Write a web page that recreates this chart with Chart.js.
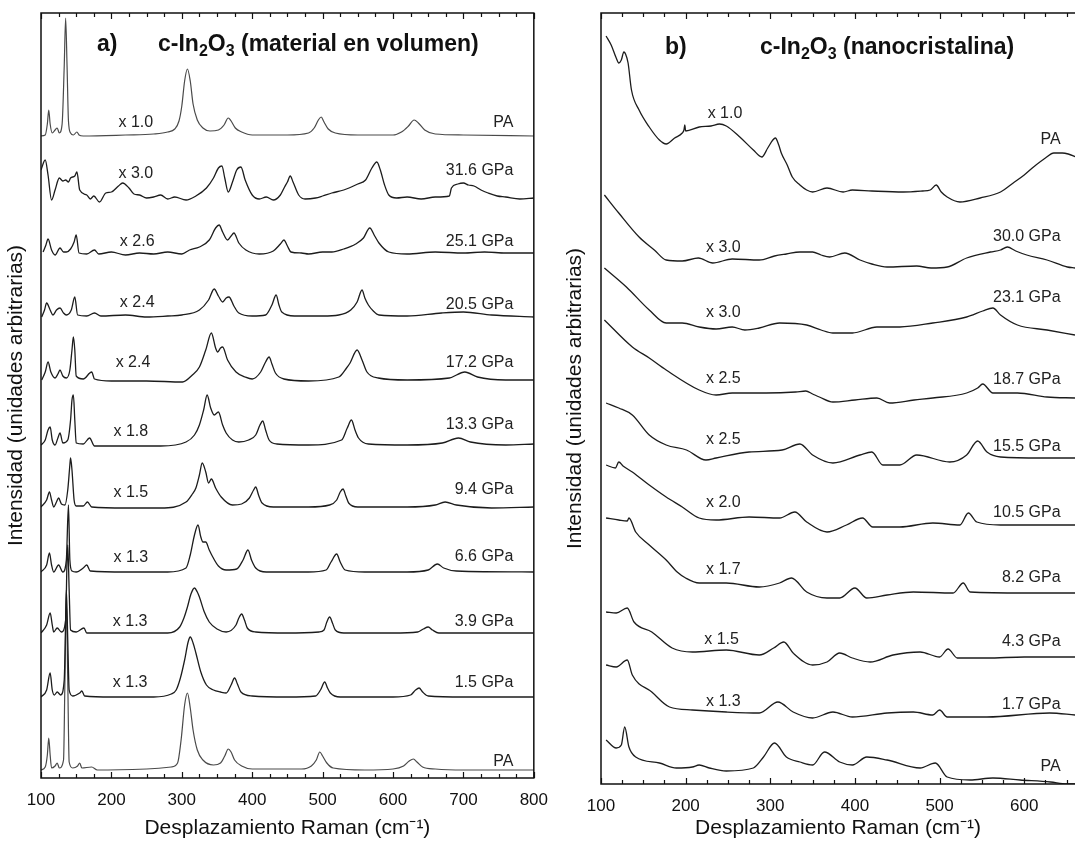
<!DOCTYPE html>
<html>
<head>
<meta charset="utf-8">
<script src="https://cdn.jsdelivr.net/npm/chart.js@4.4.1/dist/chart.umd.min.js"></script>
<style>
  html, body { margin: 0; padding: 0; background: #fff; overflow: hidden; }
  canvas { position: absolute; top: 0; }
  #bulk { left: 0; }
  #nano { left: 560px; }
</style>
</head>
<body>
<canvas id="bulk" width="560" height="841"></canvas>
<canvas id="nano" width="515" height="841"></canvas>
<script>
// ---- panel a) bulk c-In2O3, spectra top to bottom, [shift cm-1, intensity above baseline]
const bulkPA0 = [[100,0],[106,1],[109,12],[111,26],[113,12],[116,3],[120,6],[123,8],[126,3],[130,12],[133,70],[135,118],[137,70],[139,15],[142,3],[146,1],[151,4],[154,1],[160,0],[220,1],[260,2],[280,4],[290,7],[296,15],[300,30],[304,55],[308,67],[312,55],[316,32],[322,16],[330,8],[340,5],[352,6],[360,11],[366,18],[370,15],[376,8],[385,4],[400,1],[450,1],[480,3],[488,8],[494,16],[498,19],[502,14],[508,7],[518,3],[550,1],[600,1],[612,4],[622,10],[630,16],[636,13],[645,6],[660,2],[700,1],[800,0]];
const bulk316 = [[100,27],[106,37],[110,22],[115,-3],[120,7],[126,19],[131,16],[135,17],[139,15],[142,19],[148,21],[151,25],[155,7],[165,2],[170,-2],[175,1],[183,-5],[192,4],[200,5],[210,11],[216,14],[225,9],[232,3],[240,2],[250,-1],[260,0],[270,2],[280,-2],[290,0],[306,-3],[320,1],[335,9],[345,19],[352,29],[357,31],[361,19],[366,5],[372,15],[378,27],[384,30],[390,17],[400,2],[410,-2],[420,0],[430,-3],[440,2],[446,10],[450,15],[454,21],[458,15],[466,2],[475,-2],[490,-1],[500,1],[513,4],[530,7],[550,13],[561,17],[570,29],[577,35],[582,27],[588,12],[594,2],[605,-1],[620,0],[640,-2],[660,0],[680,1],[683,9],[692,13],[700,14],[707,12],[715,11],[725,7],[735,4],[748,1],[760,0],[780,-2],[800,-1]];
const bulk251 = [[103,1],[107,8],[110,14],[115,3],[120,-2],[127,5],[132,1],[136,1],[142,4],[147,11],[150,18],[154,0],[165,-1],[176,3],[182,-1],[200,1],[220,-2],[240,0],[260,-1],[280,1],[300,-1],[311,3],[325,6],[339,13],[348,25],[353,28],[358,21],[365,13],[370,17],[374,20],[381,10],[391,3],[410,-1],[430,2],[440,9],[445,13],[450,7],[455,1],[470,0],[480,-1],[500,1],[513,1],[530,4],[547,9],[558,15],[567,25],[574,17],[580,10],[594,1],[620,-1],[660,1],[700,0],[730,1],[760,0],[800,0]];
const bulk205 = [[101,-1],[105,6],[108,13],[113,6],[117,1],[122,6],[127,8],[132,3],[136,1],[143,6],[148,19],[152,1],[165,0],[176,3],[185,0],[220,1],[250,-1],[280,0],[300,1],[325,6],[338,16],[346,27],[352,20],[358,14],[363,18],[367,19],[374,10],[381,3],[400,0],[419,1],[428,11],[434,21],[438,11],[442,4],[460,0],[500,0],[523,1],[540,6],[549,14],[556,26],[560,18],[565,11],[572,5],[580,1],[620,0],[669,3],[700,4],[740,1],[800,-1]];
const bulk172 = [[101,0],[106,8],[110,18],[114,8],[120,2],[124,6],[127,10],[131,4],[136,2],[141,10],[144,30],[146,43],[148,30],[150,4],[160,1],[172,8],[176,1],[200,-1],[250,-1],[301,-2],[315,5],[325,13],[334,30],[342,47],[348,32],[351,28],[355,32],[358,33],[365,20],[377,8],[390,3],[400,1],[412,8],[419,18],[424,23],[428,16],[433,7],[445,1],[480,-1],[523,3],[534,12],[539,17],[549,30],[556,20],[563,8],[579,2],[620,0],[680,2],[702,8],[720,3],[760,0],[800,0]];
const bulk133 = [[100,0],[106,5],[110,15],[113,18],[116,5],[120,0],[124,7],[127,12],[131,2],[138,5],[142,25],[144,45],[146,50],[148,25],[150,2],[160,1],[169,7],[176,-1],[220,-1],[270,-1],[306,3],[318,10],[325,20],[331,35],[336,50],[341,37],[346,30],[352,33],[358,20],[363,12],[372,5],[381,3],[395,5],[405,10],[411,20],[415,24],[419,15],[424,5],[435,1],[480,0],[527,5],[535,17],[541,25],[546,15],[551,7],[565,1],[620,0],[670,2],[693,7],[710,3],[760,0],[800,1]];
const bulk94 = [[100,0],[108,7],[112,15],[115,7],[118,0],[122,5],[125,9],[129,3],[134,2],[138,17],[141,42],[142,49],[144,37],[147,7],[150,1],[160,1],[166,5],[172,0],[220,-1],[270,-1],[306,5],[315,13],[320,19],[325,32],[329,44],[334,35],[338,24],[342,28],[348,19],[356,10],[372,2],[385,3],[396,9],[402,17],[405,20],[409,12],[414,4],[430,0],[480,0],[510,2],[520,7],[525,15],[529,18],[533,11],[537,4],[550,0],[620,0],[660,2],[674,5],[690,2],[740,-1],[800,0]];
const bulk66 = [[100,0],[108,7],[112,19],[115,7],[118,0],[125,7],[131,0],[136,12],[139,67],[141,12],[144,1],[150,0],[160,4],[165,7],[170,1],[220,0],[280,0],[306,4],[312,17],[318,37],[323,47],[327,35],[330,30],[334,30],[339,22],[344,15],[352,6],[363,2],[378,3],[387,12],[394,22],[399,12],[405,4],[420,0],[480,0],[505,2],[512,10],[520,18],[525,10],[532,2],[560,0],[620,0],[650,2],[663,8],[672,4],[690,1],[800,0]];
const bulk39 = [[100,0],[108,8],[113,20],[116,8],[118,1],[123,5],[129,1],[135,13],[137,73],[138,88],[140,43],[142,3],[150,1],[161,5],[165,0],[220,0],[280,0],[297,6],[303,15],[308,26],[313,39],[318,45],[322,41],[325,36],[332,21],[339,11],[350,4],[363,1],[377,8],[381,15],[385,19],[389,13],[393,5],[405,1],[450,0],[495,1],[502,3],[506,11],[510,16],[514,10],[518,3],[530,0],[600,0],[635,1],[643,4],[650,6],[656,3],[665,0],[800,0]];
const bulk15 = [[100,0],[108,7],[113,24],[116,7],[119,2],[123,5],[128,2],[133,17],[135,77],[136,107],[138,57],[140,7],[145,1],[155,4],[158,6],[162,1],[200,0],[260,0],[285,3],[292,7],[298,19],[304,37],[309,55],[312,60],[316,54],[320,44],[327,25],[335,12],[345,7],[355,5],[363,4],[370,12],[375,19],[379,13],[384,5],[400,1],[450,0],[490,1],[497,7],[503,15],[507,9],[511,4],[525,0],[600,0],[625,2],[632,7],[637,9],[642,5],[650,1],[700,0],[800,0]];
const bulkPA1 = [[100,0],[106,3],[109,15],[111,32],[113,15],[115,2],[120,4],[123,7],[126,2],[132,10],[134,90],[136,170],[138,90],[140,8],[145,2],[152,4],[155,7],[158,2],[172,3],[180,0],[250,1],[285,3],[294,7],[299,30],[304,65],[308,77],[312,62],[316,40],[322,20],[330,10],[345,5],[355,7],[361,14],[366,21],[370,18],[375,10],[385,4],[400,1],[470,1],[484,4],[491,10],[496,18],[500,14],[506,7],[515,2],[560,0],[600,1],[615,4],[623,9],[629,11],[634,8],[642,3],[660,1],[700,0],[800,0]];

const bulkSpectra = [bulkPA0, bulk316, bulk251, bulk205, bulk172, bulk133, bulk94, bulk66, bulk39, bulk15, bulkPA1];
const bulkOffsets = [642, 581, 525, 462, 398, 333, 271, 206, 145, 81, 8];
const bulkFactor = ["x 1.0", "x 3.0", "x 2.6", "x 2.4", "x 2.4", "x 1.8", "x 1.5", "x 1.3", "x 1.3", "x 1.3", ""];
const bulkFactorX = [210, 210, 212, 212, 206, 203, 203, 203, 202, 202, 0];
const bulkFactorY = [655, 604, 536, 475, 415, 346, 285, 220, 156, 95, 0];
const bulkPressure = ["PA", "31.6 GPa", "25.1 GPa", "20.5 GPa", "17.2 GPa", "13.3 GPa", "9.4 GPa", "6.6 GPa", "3.9 GPa", "1.5 GPa", "PA"];
const bulkPressureY = [655, 607, 536, 473, 415, 353, 288, 221, 156, 95, 16];
const bulkTicks = [100, 200, 300, 400, 500, 600, 700, 800];

// ---- panel b) nanocrystalline c-In2O3
const nanoPA0 = [[106,156],[112,147],[118,134],[121,129],[124,132],[127,140],[129,138],[132,129],[136,102],[145,82],[157,65],[169,52],[177,48],[187,54],[196,59],[198,62],[199,67],[200,61],[216,65],[230,66],[240,68],[248,66],[264,55],[280,42],[290,35],[297,44],[303,52],[306,54],[310,47],[313,39],[320,27],[326,15],[335,7],[343,2],[350,0],[367,4],[386,0],[397,2],[420,1],[457,0],[480,1],[489,2],[496,7],[502,0],[509,-5],[524,-10],[548,-6],[572,0],[587,9],[600,17],[611,25],[625,34],[635,39],[645,39],[652,38],[661,35]];
const nano300 = [[104,65],[121,47],[145,23],[163,10],[177,0],[196,-1],[215,2],[232,-3],[255,1],[287,0],[305,4],[319,6],[335,8],[350,8],[360,5],[370,3],[388,7],[406,0],[420,-4],[438,-7],[473,-6],[490,-8],[509,-7],[532,2],[560,8],[572,10],[580,13],[590,9],[603,5],[627,0],[651,-7],[660,-8]];
const nano231 = [[104,59],[130,40],[157,17],[177,4],[196,4],[216,0],[236,-2],[255,0],[270,-3],[287,-1],[311,4],[343,2],[360,-3],[374,-6],[397,-6],[426,0],[453,0],[492,4],[532,10],[551,16],[563,19],[572,12],[592,2],[627,-3],[660,-8]];
const nano187 = [[104,75],[137,48],[157,37],[177,25],[216,5],[236,0],[255,2],[295,2],[330,3],[342,4],[350,1],[358,-2],[374,-7],[400,-5],[426,-3],[441,-8],[470,-5],[492,-3],[532,2],[545,7],[551,11],[563,2],[592,2],[627,-2],[660,-3]];
const nano155 = [[106,52],[121,47],[137,40],[157,20],[177,10],[201,5],[224,-5],[236,-3],[275,3],[314,5],[335,11],[350,0],[374,-8],[406,0],[420,3],[433,-10],[453,-10],[473,0],[512,-7],[532,0],[545,14],[556,3],[572,-2],[620,-3],[660,-3]];
const nano105 = [[106,55],[117,52],[121,58],[126,54],[137,48],[157,35],[177,23],[196,13],[216,2],[236,0],[275,3],[311,2],[329,8],[343,-2],[367,-12],[390,-5],[409,2],[421,-7],[453,-7],[492,-3],[524,-5],[534,7],[544,-2],[572,-5],[660,-5]];
const nano82 = [[106,67],[121,65],[131,64],[133,67],[141,53],[157,40],[177,25],[190,13],[200,7],[216,2],[248,2],[287,-2],[311,2],[325,7],[343,-7],[367,-13],[382,-13],[400,-3],[414,-13],[438,-10],[469,-7],[516,-8],[528,2],[536,-7],[600,-8],[660,-8]];
const nano43 = [[106,40],[118,39],[131,44],[139,30],[160,20],[184,4],[208,0],[248,2],[287,-3],[304,4],[316,10],[327,-1],[350,-13],[367,-10],[382,-1],[397,-6],[418,-10],[445,-3],[477,0],[500,-5],[510,3],[521,-6],[556,-6],[600,-5],[660,-5]];
const nano17 = [[106,47],[118,45],[131,52],[137,37],[160,20],[181,5],[208,2],[248,0],[287,-1],[309,10],[327,0],[350,-6],[374,0],[397,-5],[438,-1],[469,0],[492,-3],[500,2],[509,-5],[556,-5],[630,-1],[660,-3]];
const nanoPA1 = [[106,28],[118,20],[124,23],[128,41],[133,21],[141,11],[169,5],[189,0],[208,1],[216,3],[228,0],[248,-3],[280,0],[292,11],[305,25],[319,11],[335,6],[350,3],[364,16],[382,6],[397,3],[414,11],[438,8],[477,0],[495,5],[509,-9],[536,-12],[563,-10],[595,-12],[631,-14],[650,-16],[660,-16]];

const nanoSpectra = [nanoPA0, nano300, nano231, nano187, nano155, nano105, nano82, nano43, nano17, nanoPA1];
const nanoOffsets = [592, 524, 457, 389, 329, 264, 199, 132, 72, 16];
const nanoFactor = ["x 1.0", "x 3.0", "x 3.0", "x 2.5", "x 2.5", "x 2.0", "x 1.7", "x 1.5", "x 1.3", ""];
const nanoFactorX = [226, 224, 224, 224, 224, 224, 224, 222, 224, 0];
const nanoFactorY = [670, 536, 471, 405, 344, 281, 214, 144, 82, 0];
const nanoPressure = ["PA", "30.0 GPa", "23.1 GPa", "18.7 GPa", "15.5 GPa", "10.5 GPa", "8.2 GPa", "4.3 GPa", "1.7 GPa", "PA"];
const nanoPressureY = [644, 547, 486, 404, 337, 271, 206, 142, 79, 17];
const nanoTicks = [100, 200, 300, 400, 500, 600];

const FONT = "'Liberation Sans', Arial, sans-serif";

function make_datasets(spectra, offsets, smooth) {
  return spectra.map((spec, i) => ({
    data: spec.map((p) => ({ x: p[0], y: offsets[i] + p[1] })),
    // the smooth ambient-pressure bulk traces print lighter than the noisy ones
    borderColor: smooth.includes(i) ? "#4a4a4a" : "#1c1c1c",
    borderWidth: smooth.includes(i) ? 1.2 : 1.3,
    pointRadius: 0,
    cubicInterpolationMode: "monotone",
  }));
}

// frame, inward ticks (every 25 cm-1), title and spectrum labels
function panel_plugin(opts) {
  return {
    id: "panel_" + opts.name,
    afterDraw(chart) {
      const ctx = chart.ctx;
      const a = chart.chartArea;
      const xs = chart.scales.x;
      const ys = chart.scales.y;
      ctx.save();
      ctx.strokeStyle = "#111";
      ctx.lineWidth = 1.5;
      ctx.beginPath();
      if (opts.rightBorder) {
        ctx.rect(a.left, a.top, a.right - a.left, a.bottom - a.top);
      } else {
        ctx.moveTo(a.right + 2, a.top);
        ctx.lineTo(a.left, a.top);
        ctx.lineTo(a.left, a.bottom);
        ctx.lineTo(a.right + 2, a.bottom);
      }
      ctx.stroke();

      ctx.lineWidth = 1.2;
      ctx.beginPath();
      for (let v = xs.min; v <= xs.max; v += 25) {
        const px = Math.round(xs.getPixelForValue(v)) + 0.5;
        const len = v % 100 === 0 ? 6 : 4;
        ctx.moveTo(px, a.bottom);
        ctx.lineTo(px, a.bottom - len);
        ctx.moveTo(px, a.top);
        ctx.lineTo(px, a.top + len);
      }
      ctx.stroke();

      // title with subscripts
      ctx.fillStyle = "#111";
      ctx.textBaseline = "middle";
      ctx.font = "bold 23px " + FONT;
      ctx.fillText(opts.tag, a.left + opts.tagDx, opts.titleY);
      let tx = a.left + opts.titleDx;
      opts.title.forEach(([txt, sub]) => {
        ctx.font = sub ? "bold 16px " + FONT : "bold 23px " + FONT;
        ctx.fillText(txt, tx, opts.titleY + (sub ? 7 : 0));
        tx += ctx.measureText(txt).width;
      });

      // spectrum labels
      ctx.font = "16px " + FONT;
      ctx.fillStyle = "#222";
      opts.factor.forEach((t, i) => {
        if (!t) return;
        ctx.textAlign = "left";
        ctx.fillText(t, xs.getPixelForValue(opts.factorX[i]), ys.getPixelForValue(opts.factorY[i]));
      });
      opts.pressure.forEach((t, i) => {
        ctx.textAlign = "right";
        ctx.fillText(t, xs.getPixelForValue(opts.pressureX[i]), ys.getPixelForValue(opts.pressureY[i]));
      });
      ctx.restore();
    },
  };
}

function make_chart(id, o) {
  return new Chart(document.getElementById(id), {
    type: "line",
    data: { datasets: make_datasets(o.spectra, o.offsets, o.smooth) },
    options: {
      responsive: false,
      animation: false,
      events: [],
      layout: { padding: { top: 13, right: o.padRight, left: 0, bottom: 0 } },
      plugins: { legend: { display: false }, tooltip: { enabled: false } },
      scales: {
        x: {
          type: "linear",
          min: 100,
          max: o.xMax,
          grid: { display: false, drawTicks: false },
          border: { display: false },
          afterBuildTicks: (s) => { s.ticks = o.ticks.map((v) => ({ value: v })); },
          afterFit: (s) => { s.height = o.xHeight; },
          ticks: { color: "#111", font: { family: FONT, size: 17 }, padding: 12, maxRotation: 0 },
          title: {
            display: true,
            text: "Desplazamiento Raman (cm\u207B\u00B9)",
            color: "#111",
            font: { family: FONT, size: 21 },
            padding: { top: 0, bottom: 0 },
          },
        },
        y: {
          type: "linear",
          min: 0,
          max: o.yMax,
          grid: { display: false, drawTicks: false },
          border: { display: false },
          ticks: { display: false },
          afterFit: (s) => { s.width = 41; },
          title: {
            display: true,
            text: "Intensidad (unidades arbitrarias)",
            color: "#111",
            font: { family: FONT, size: 21 },
            padding: { top: o.yTitlePad, bottom: 0 },
          },
        },
      },
    },
    plugins: [panel_plugin(o.panel)],
  });
}

make_chart("bulk", {
  spectra: bulkSpectra,
  offsets: bulkOffsets,
  smooth: [0, 10],
  ticks: bulkTicks,
  xMax: 800,
  yMax: 765,
  padRight: 23,
  xHeight: 63,
  yTitlePad: 4,
  panel: {
    name: "a",
    rightBorder: true,
    tag: "a)",
    tagDx: 56,
    titleDx: 117,
    titleY: 45,
    title: [["c-In", 0], ["2", 1], ["O", 0], ["3", 1], [" (material en volumen)", 0]],
    factor: bulkFactor,
    factorX: bulkFactorX,
    factorY: bulkFactorY,
    pressure: bulkPressure,
    pressureX: bulkPressure.map(() => 771),
    pressureY: bulkPressureY,
  },
});

make_chart("nano", {
  spectra: nanoSpectra,
  offsets: nanoOffsets,
  smooth: [],
  ticks: nanoTicks,
  xMax: 660,
  yMax: 771,
  padRight: 0,
  xHeight: 57,
  yTitlePad: 3,
  panel: {
    name: "b",
    rightBorder: false,
    tag: "b)",
    tagDx: 64,
    titleDx: 159,
    titleY: 48,
    title: [["c-In", 0], ["2", 1], ["O", 0], ["3", 1], [" (nanocristalina)", 0]],
    factor: nanoFactor,
    factorX: nanoFactorX,
    factorY: nanoFactorY,
    pressure: nanoPressure,
    pressureX: nanoPressure.map(() => 643),
    pressureY: nanoPressureY,
  },
});
</script>
</body>
</html>
